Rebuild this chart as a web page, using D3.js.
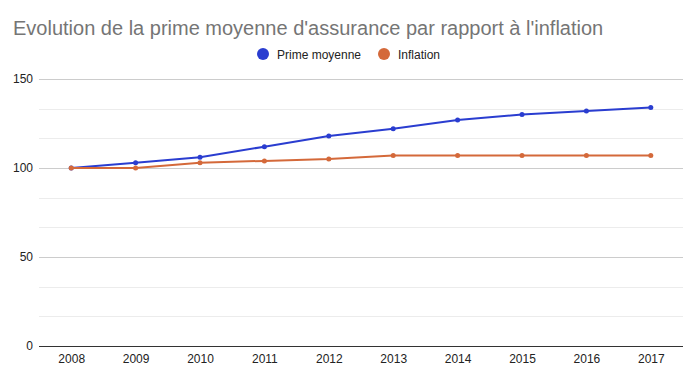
<!DOCTYPE html>
<html>
<head>
<meta charset="utf-8">
<script src="https://cdn.jsdelivr.net/npm/d3@7"></script>
<style>
  body { margin: 0; background: #fff; }
  svg { display: block; font-family: "Liberation Sans", Arial, sans-serif; }
</style>
</head>
<body>
<div id="chart"></div>
<script>
// data
const years = ["2008", "2009", "2010", "2011", "2012", "2013", "2014", "2015", "2016", "2017"];
const primeMoyenne = [100, 103, 106, 112, 118, 122, 127, 130, 132, 134];
const inflation = [100, 100, 103, 104, 105, 107, 107, 107, 107, 107];
const yTicks = [0, 50, 100, 150];

const series = [
  { name: "Prime moyenne", values: primeMoyenne, color: "#2a3dd0" },
  { name: "Inflation", values: inflation, color: "#d4693a" }
];

const width = 687, height = 378;
const margin = { top: 79, right: 4, bottom: 32, left: 39 };

const svg = d3.select("#chart").append("svg")
  .attr("width", width).attr("height", height);

// title
svg.append("text")
  .attr("x", 13).attr("y", 35)
  .attr("font-size", 20)
  .attr("fill", "#757575")
  .text("Evolution de la prime moyenne d'assurance par rapport à l'inflation");

const x = d3.scalePoint()
  .domain(years)
  .range([margin.left, width - margin.right])
  .padding(0.5);

const y = d3.scaleLinear()
  .domain([0, 150])
  .range([height - margin.bottom, margin.top]);

// minor grid (thirds between labelled ticks)
const minor = d3.range(0, 150, 50 / 3).filter((d, i) => i % 3 !== 0);
svg.append("g").selectAll("line")
  .data(minor)
  .join("line")
  .attr("x1", margin.left).attr("x2", width - margin.right)
  .attr("y1", d => Math.round(y(d)) + 0.5).attr("y2", d => Math.round(y(d)) + 0.5)
  .attr("stroke", "#ececec");

// y axis with major grid
const yAxis = svg.append("g")
  .attr("transform", `translate(${margin.left},0)`)
  .call(d3.axisLeft(y).tickValues(yTicks).tickSize(-(width - margin.left - margin.right)).tickPadding(6));
yAxis.select(".domain").remove();
yAxis.selectAll(".tick line").attr("stroke", d => d === 0 ? "#333" : "#cccccc");
yAxis.selectAll(".tick text")
  .attr("font-size", 12).attr("fill", "#222")
  .attr("font-family", "Liberation Sans, Arial, sans-serif");

// x axis
const xAxis = svg.append("g")
  .attr("transform", `translate(0,${height - margin.bottom})`)
  .call(d3.axisBottom(x).tickSize(0).tickPadding(8));
xAxis.select(".domain").remove();
xAxis.selectAll(".tick text")
  .attr("font-size", 12).attr("fill", "#222")
  .attr("font-family", "Liberation Sans, Arial, sans-serif");

// lines
const line = d3.line()
  .x((d, i) => x(years[i]))
  .y(d => y(d));

series.forEach(s => {
  svg.append("path")
    .datum(s.values)
    .attr("fill", "none")
    .attr("stroke", s.color)
    .attr("stroke-width", 2)
    .attr("d", line);

  svg.append("g").selectAll("circle")
    .data(s.values)
    .join("circle")
    .attr("cx", (d, i) => x(years[i]))
    .attr("cy", d => y(d))
    .attr("r", 2.5)
    .attr("fill", s.color);
});

// legend
const legendPos = [263, 384];
const legend = svg.append("g");
series.forEach((s, i) => {
  const g = legend.append("g").attr("transform", `translate(${legendPos[i]},54)`);
  g.append("circle").attr("r", 6).attr("fill", s.color);
  g.append("text")
    .attr("x", 14).attr("y", 4.5)
    .attr("font-size", 12).attr("fill", "#222")
    .text(s.name);
});
</script>
</body>
</html>
